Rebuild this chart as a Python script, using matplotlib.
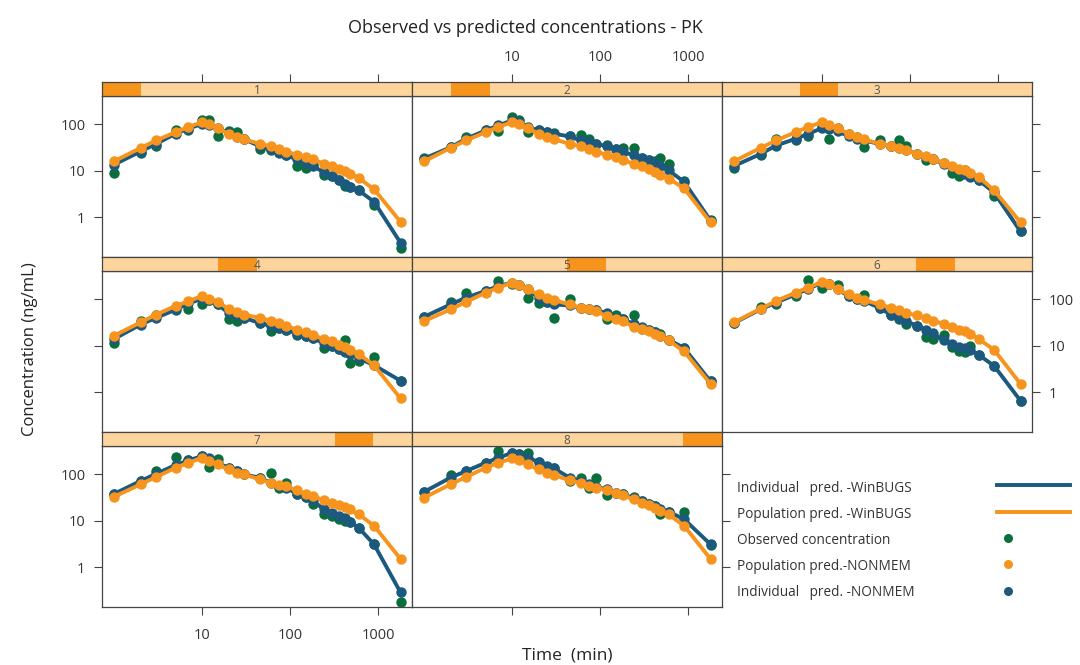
import numpy as np
import matplotlib
matplotlib.use("Agg")
import matplotlib.pyplot as plt
from matplotlib.patches import Rectangle
from matplotlib.lines import Line2D

plt.rcParams['font.family'] = ['Open Sans', 'DejaVu Sans']

# sampling times (min)
time_min = [1, 2, 3, 5, 7, 10, 12, 15, 20, 25, 30, 45, 60, 75, 90, 120,
            150, 180, 240, 300, 360, 420, 480, 600, 900, 1800]

subjects = ["1", "2", "3", "4", "5", "6", "7", "8"]

# population predictions (orange)
pop_pred = [
    [16, 31, 45, 68, 88, 112, 103, 83, 63, 53, 48, 38, 34, 30, 26, 22, 20, 17.7, 14.3, 12.7, 11.1, 9.8, 8.6, 7.0, 4.0, 0.79],
    [16, 31, 45, 68, 88, 112, 103, 83, 63, 53, 48, 38, 34, 30, 26, 22, 20, 17, 14.3, 12.7, 10.8, 9.4, 8.3, 6.8, 4.2, 0.77],
    [16, 31, 45, 68, 88, 112, 98, 83, 63, 53, 48, 38, 35, 31, 28, 23, 20.5, 18.3, 15, 12.7, 11.1, 10.2, 9.1, 7.4, 3.8, 0.77],
    [16.5, 32, 47, 72, 92, 118, 103, 88, 63, 53, 47, 40, 35, 31, 27, 22, 19.5, 17, 14, 12.4, 10.5, 9.3, 8.2, 6.7, 3.8, 0.73],
    [34, 61, 88, 140, 180, 230, 200, 165, 128, 109, 97, 78, 66, 61, 56, 43, 38, 34, 26, 23, 20.5, 18, 16, 13, 7.6, 1.5],
    [32, 63, 92, 140, 180, 240, 210, 165, 128, 109, 97, 78, 66, 59, 51, 45, 40, 34, 30, 25.5, 22, 20.5, 18, 14, 8.2, 1.5],
    [33, 61, 88, 139, 178, 228, 193, 164, 128, 109, 100, 78, 66, 59, 56, 45, 38, 34, 28, 24.6, 22, 20, 17.7, 13.8, 7.8, 1.5],
    [31.5, 61, 88, 139, 178, 221, 200, 164, 128, 109, 97, 74, 66, 56, 52, 45, 40, 36, 29, 24.6, 22, 19, 16, 13.8, 7.8, 1.5],
]

# individual predictions (blue)
ind_pred = [
    [13.6, 26, 38, 63, 81, 103, 98, 83, 66, 53, 48, 34, 29, 24.6, 21.5, 17.7, 15, 12.7, 9.4, 7.7, 6.25, 5.3, 4.5, 3.8, 2.14, 0.28],
    [18.3, 32, 49, 74, 95, 122, 112, 88, 74, 68, 63, 55, 45, 42, 38, 34, 29, 26, 21.5, 19, 17, 15, 12.7, 10.2, 5.8, 0.84],
    [12.7, 23, 35, 49, 63, 83, 81, 71, 56, 49, 45, 38, 34, 31, 28, 23, 20, 17.7, 14.3, 12, 10.2, 8.7, 7.4, 6.3, 3.4, 0.49],
    [14, 28.7, 40, 60, 82, 103, 97, 78, 51, 45, 40, 31, 27, 24, 22, 18.3, 16, 14.6, 11.5, 9.7, 8.5, 7.5, 6.7, 5.4, 3.8, 1.76],
    [42, 78, 109, 152, 195, 230, 200, 165, 109, 88, 78, 74, 66, 61, 59, 50, 40, 37, 30, 25.5, 22, 19.5, 16.5, 13.5, 9.0, 1.7],
    [31, 61, 85, 128, 170, 230, 210, 165, 118, 100, 92, 66, 47, 40, 34, 27, 21.6, 18.8, 13, 11, 9.3, 8.9, 8.2, 6.4, 3.7, 0.65],
    [38, 72, 103, 159, 200, 248, 228, 178, 139, 118, 100, 85, 66, 56, 52, 38, 33, 28, 17.7, 15, 12.7, 11.3, 9.6, 7.1, 3.1, 0.285],
    [42, 85, 118, 178, 228, 292, 270, 228, 187, 152, 135, 85, 72, 61, 53, 48, 40, 37, 31, 27, 23, 21, 17.7, 15.8, 10.8, 3.1],
]

# observed concentrations (green)
observed = [
    [9.0, 24.5, 34, 74, 74, 126, 122, 56, 71, 68, 48, 30, 27.6, 25, 21.5, 12.7, 11.5, 13, 8.0, 7.7, 6.3, 4.6, 4.5, 3.8, 1.8, 0.22],
    [18.5, 32, 53, 74, 71, 144, 122, 68, 74, 70, 66, 55, 60, 49, 38, 36, 29, 31, 31, 19, 17, 16, 19, 14.3, 6, 0.86],
    [11.5, 21.5, 49, 45, 56, 88, 48, 83, 63, 53, 32, 45, 35, 45, 34, 23, 17, 18, 15, 9.1, 7.7, 10.5, 8.5, 6.3, 2.9, 0.49],
    [11.4, 34, 45, 65, 63, 78, 97, 80, 37, 34, 40, 31, 20.5, 24, 22, 17, 16, 14.6, 9, 10, 8.5, 13.5, 4.2, 4.6, 5.7, 1.76],
    [42, 88, 135, 152, 250, 210, 200, 109, 85, 88, 40, 100, 66, 61, 59, 38, 47, 37, 47, 23, 22, 19.5, 18, 13.5, 9, 1.7],
    [31, 69, 78, 118, 263, 180, 210, 200, 118, 100, 122, 66, 47, 37, 30, 27, 15.5, 14, 17, 9.3, 7.9, 7.5, 9.7, 6.4, 3.7, 0.65],
    [38, 72, 118, 240, 200, 248, 144, 220, 139, 118, 100, 85, 109, 50, 66, 38, 33, 22.6, 13.8, 12.7, 10.8, 10, 9.6, 7.1, 3.1, 0.18],
    [42, 97, 118, 178, 318, 292, 270, 292, 187, 144, 135, 72, 85, 50, 85, 36, 40, 37, 33, 27, 23, 21, 13.8, 15.8, 15.7, 3],
]

legend_labels = ["Individual   pred. -WinBUGS", "Population pred. -WinBUGS",
                 "Observed concentration", "Population pred.-NONMEM",
                 "Individual   pred. -NONMEM"]

BLUE = "#1b5a7e"
ORANGE = "#f7941d"
GREEN = "#0a6e3d"
STRIP_LIGHT = "#fdd59c"
FRAME = "#444444"
TXT = "#333333"
MS = 7.5
LW = 2.8

W, H = 1080, 665
fig = plt.figure(figsize=(W / 100, H / 100), dpi=100)


def add_px(x0, y0, w, h, **kw):
    return fig.add_axes([x0 / W, 1 - (y0 + h) / H, w / W, h / H], **kw)


col_x = [102, 412, 722]
row_y = [82, 257, 432]   # strip tops
strip_h = 14
panel_h = 161
panel_w = 310

for i, name in enumerate(subjects):
    r, c = divmod(i, 3)
    x0 = col_x[c]
    ys = row_y[r]
    ax = add_px(x0, ys + strip_h, panel_w, panel_h)
    ax.set_xscale("log")
    ax.set_yscale("log")
    ax.set_xlim(0.73, 2430)
    ax.set_ylim(0.138, 410)

    ax.plot(time_min, observed[i], "o", color=GREEN, ms=MS, mec="none", zorder=2)
    ax.plot(time_min, ind_pred[i], "-o", color=BLUE, lw=LW, ms=MS, mec="none", zorder=3)
    ax.plot(time_min, pop_pred[i], "-o", color=ORANGE, lw=LW, ms=MS, mec="none", zorder=4)

    for s in ax.spines.values():
        s.set_color(FRAME)
        s.set_linewidth(0.9)

    ax.set_xticks([10, 100, 1000])
    ax.set_xticklabels(["10", "100", "1000"])
    ax.set_yticks([1, 10, 100])
    ax.set_yticklabels(["1", "10", "100"])
    ax.minorticks_off()

    # lattice-like alternating axes
    left = c == 0
    right = c == 2 or i == 7
    bottom = r == 2
    ax.tick_params(axis="x", which="both", direction="out", length=6, width=0.8,
                   color=FRAME, labelcolor=TXT, labelsize=10.5, pad=9,
                   top=False, bottom=bottom, labelbottom=(bottom and i == 6))
    ax.tick_params(axis="y", which="both", direction="out", length=6, width=0.8,
                   color=FRAME, labelcolor=TXT, labelsize=10.5, pad=6,
                   left=left, labelleft=(left and r != 1),
                   right=right, labelright=(right and i == 5))

    # strip
    sax = add_px(x0, ys, panel_w, strip_h, sharex=ax)
    sax.set_ylim(0, 1)
    sax.add_patch(Rectangle((0, 0), 1, 1, transform=sax.transAxes,
                            facecolor=STRIP_LIGHT, edgecolor="none"))
    sax.add_patch(Rectangle((i / 8, 0), 1 / 8, 1, transform=sax.transAxes,
                            facecolor=ORANGE, edgecolor="none"))
    sax.text(0.5, 0.42, name, transform=sax.transAxes, ha="center", va="center",
             fontsize=8.5, color="#555555")
    for s in sax.spines.values():
        s.set_color(FRAME)
        s.set_linewidth(0.9)
    sax.set_yticks([])
    sax.tick_params(axis="x", which="both", direction="out", length=6, width=0.8,
                    color=FRAME, labelcolor=TXT, labelsize=10.5, pad=6,
                    bottom=False, labelbottom=False,
                    top=(r == 0), labeltop=(i == 1))

# titles
fig.text(525 / W, 1 - 28 / H, "Observed vs predicted concentrations - PK",
         ha="center", va="center", fontsize=13, color="#222222")
fig.text(30 / W, 1 - 349 / H, "Concentration (ng/mL)", rotation=90,
         ha="center", va="center", fontsize=12, color="#222222")
fig.text(567 / W, 1 / H, "Time  (min)", ha="center", va="bottom",
         fontsize=12.5, color="#222222")

# legend in empty panel slot
leg_y = [488, 514, 540, 566, 593]
for k, lab in enumerate(legend_labels):
    fig.text(737 / W, 1 - leg_y[k] / H, lab, ha="left", va="center",
             fontsize=9.8, color=TXT)
fig.add_artist(Line2D([997 / W, 1070 / W], [1 - 485 / H] * 2, color=BLUE, lw=LW))
fig.add_artist(Line2D([997 / W, 1070 / W], [1 - 512 / H] * 2, color=ORANGE, lw=LW))
for k, col in zip([2, 3, 4], [GREEN, ORANGE, BLUE]):
    fig.add_artist(Line2D([1008 / W], [1 - (leg_y[k] - 2) / H], marker="o",
                          color=col, ms=6.5, mec="none", lw=0))

fig.savefig("out.png", dpi=100)
